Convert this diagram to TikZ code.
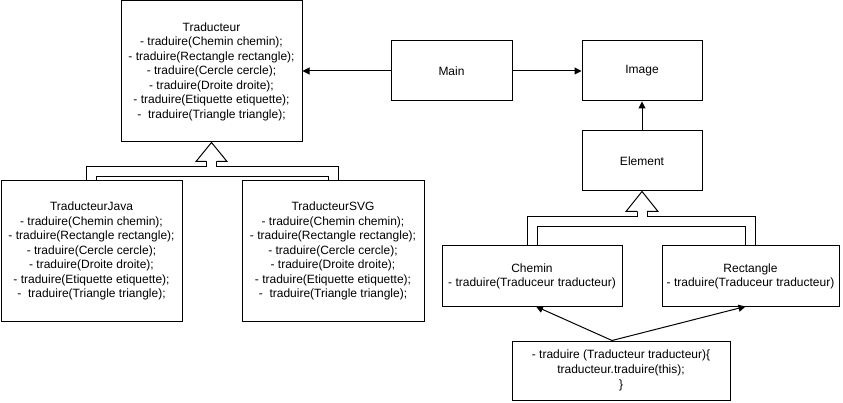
\documentclass[tikz,border=0pt]{standalone}
\usepackage{fontspec}
\setmainfont{Liberation Sans}
\usetikzlibrary{arrows.meta}
\pgfdeclarelayer{background}
\pgfsetlayers{background,main}
\begin{document}
\begin{tikzpicture}[x=1pt,y=-1pt,
  box/.style={draw, line width=1pt, inner sep=0pt, align=center,
    font=\fontsize{12}{14.5}\selectfont},
  conn/.style={draw, line width=1pt, -{Triangle[length=7pt,width=7pt]}},
  shaftout/.style={draw=black, line width=11pt, line join=miter},
  shaftin/.style={draw=white, line width=9pt, line join=miter},
  headstyle/.style={draw=black, line width=1pt, line join=miter},
]
\useasboundingbox (0,0) rectangle (843,403);

\node[box, minimum width=181pt, minimum height=141pt] (trad) at (211.5,71.5)
  {Traducteur\\- traduire(Chemin chemin);\\- traduire(Rectangle rectangle);\\- traduire(Cercle cercle);\\- traduire(Droite droite);\\- traduire(Etiquette etiquette);\\-~ traduire(Triangle triangle);};
\node[box, minimum width=181pt, minimum height=140pt] (java) at (91.5,251)
  {TraducteurJava\\- traduire(Chemin chemin);\\- traduire(Rectangle rectangle);\\- traduire(Cercle cercle);\\- traduire(Droite droite);\\- traduire(Etiquette etiquette);\\-~ traduire(Triangle triangle);};
\node[box, minimum width=182pt, minimum height=140pt] (svg) at (333,251)
  {TraducteurSVG\\- traduire(Chemin chemin);\\- traduire(Rectangle rectangle);\\- traduire(Cercle cercle);\\- traduire(Droite droite);\\- traduire(Etiquette etiquette);\\-~ traduire(Triangle triangle);};
\node[box, minimum width=121pt, minimum height=60pt] (main) at (451.5,71) {Main};
\node[box, minimum width=120pt, minimum height=60pt] (image) at (642,71) {Image};
\node[box, minimum width=120pt, minimum height=60pt] (element) at (642,161) {Element};
\node[box, minimum width=180pt, minimum height=60pt, font=\fontsize{12}{14}\selectfont] (chemin) at (532,276)
  {Chemin\\- traduire(Traduceur traducteur)};
\node[box, minimum width=177pt, minimum height=60pt, font=\fontsize{12}{14}\selectfont] (rect) at (750.5,276)
  {Rectangle\\- traduire(Traduceur traducteur)};
\node[box, minimum width=218pt, minimum height=59pt, font=\fontsize{12}{15}\selectfont] (code) at (621,370.5)
  {- traduire (Traducteur traducteur)\{\\traducteur.traduire(this);\\\}};

% plain connectors
\draw[conn] (main.west) -- (main.west -| trad.east);
\draw[conn] (main.east) -- (image.west);
\draw[conn] (element.north) -- (image.south);
\draw[conn] ([xshift=-9pt]code.north) -- ([xshift=4pt]chemin.south);
\draw[conn] ([xshift=-9pt]code.north) -- ([xshift=-5pt]rect.south);

% inheritance (hollow wide arrows)
\begin{pgfonlayer}{background}
  \fill[white] (0,0) rectangle (843,403);
  % Traducteur
  \draw[shaftout] (java.north) -- (java.north |- 0,171.5) -- (svg.north |- 0,171.5) -- (svg.north);
  \draw[shaftout] (trad.south |- 0,171.5) -- (trad.south |- 0,161);
  \draw[shaftin] (java.north) -- (java.north |- 0,171.5) -- (svg.north |- 0,171.5) -- (svg.north);
  \draw[shaftin] (trad.south |- 0,171.5) -- (trad.south |- 0,161);
  % Element
  \draw[shaftout] (chemin.north) -- (chemin.north |- 0,221.5) -- (rect.north |- 0,221.5) -- (rect.north);
  \draw[shaftout] (element.south |- 0,221.5) -- (element.south |- 0,211);
  \draw[shaftin] (chemin.north) -- (chemin.north |- 0,221.5) -- (rect.north |- 0,221.5) -- (rect.north);
  \draw[shaftin] (element.south |- 0,221.5) -- (element.south |- 0,211);
\end{pgfonlayer}
% arrow heads
\fill[white] (trad.south) -- ([shift={(15.5,19)}]trad.south) -- ([shift={(-15.5,19)}]trad.south) -- cycle;
\draw[headstyle] ([shift={(5,19)}]trad.south) -- ([shift={(15.5,19)}]trad.south) -- (trad.south)
  -- ([shift={(-15.5,19)}]trad.south) -- ([shift={(-5,19)}]trad.south);
\fill[white] (element.south) -- ([shift={(16,20)}]element.south) -- ([shift={(-16,20)}]element.south) -- cycle;
\draw[headstyle] ([shift={(5,20)}]element.south) -- ([shift={(16,20)}]element.south) -- (element.south)
  -- ([shift={(-16,20)}]element.south) -- ([shift={(-5,20)}]element.south);
\end{tikzpicture}
\end{document}
